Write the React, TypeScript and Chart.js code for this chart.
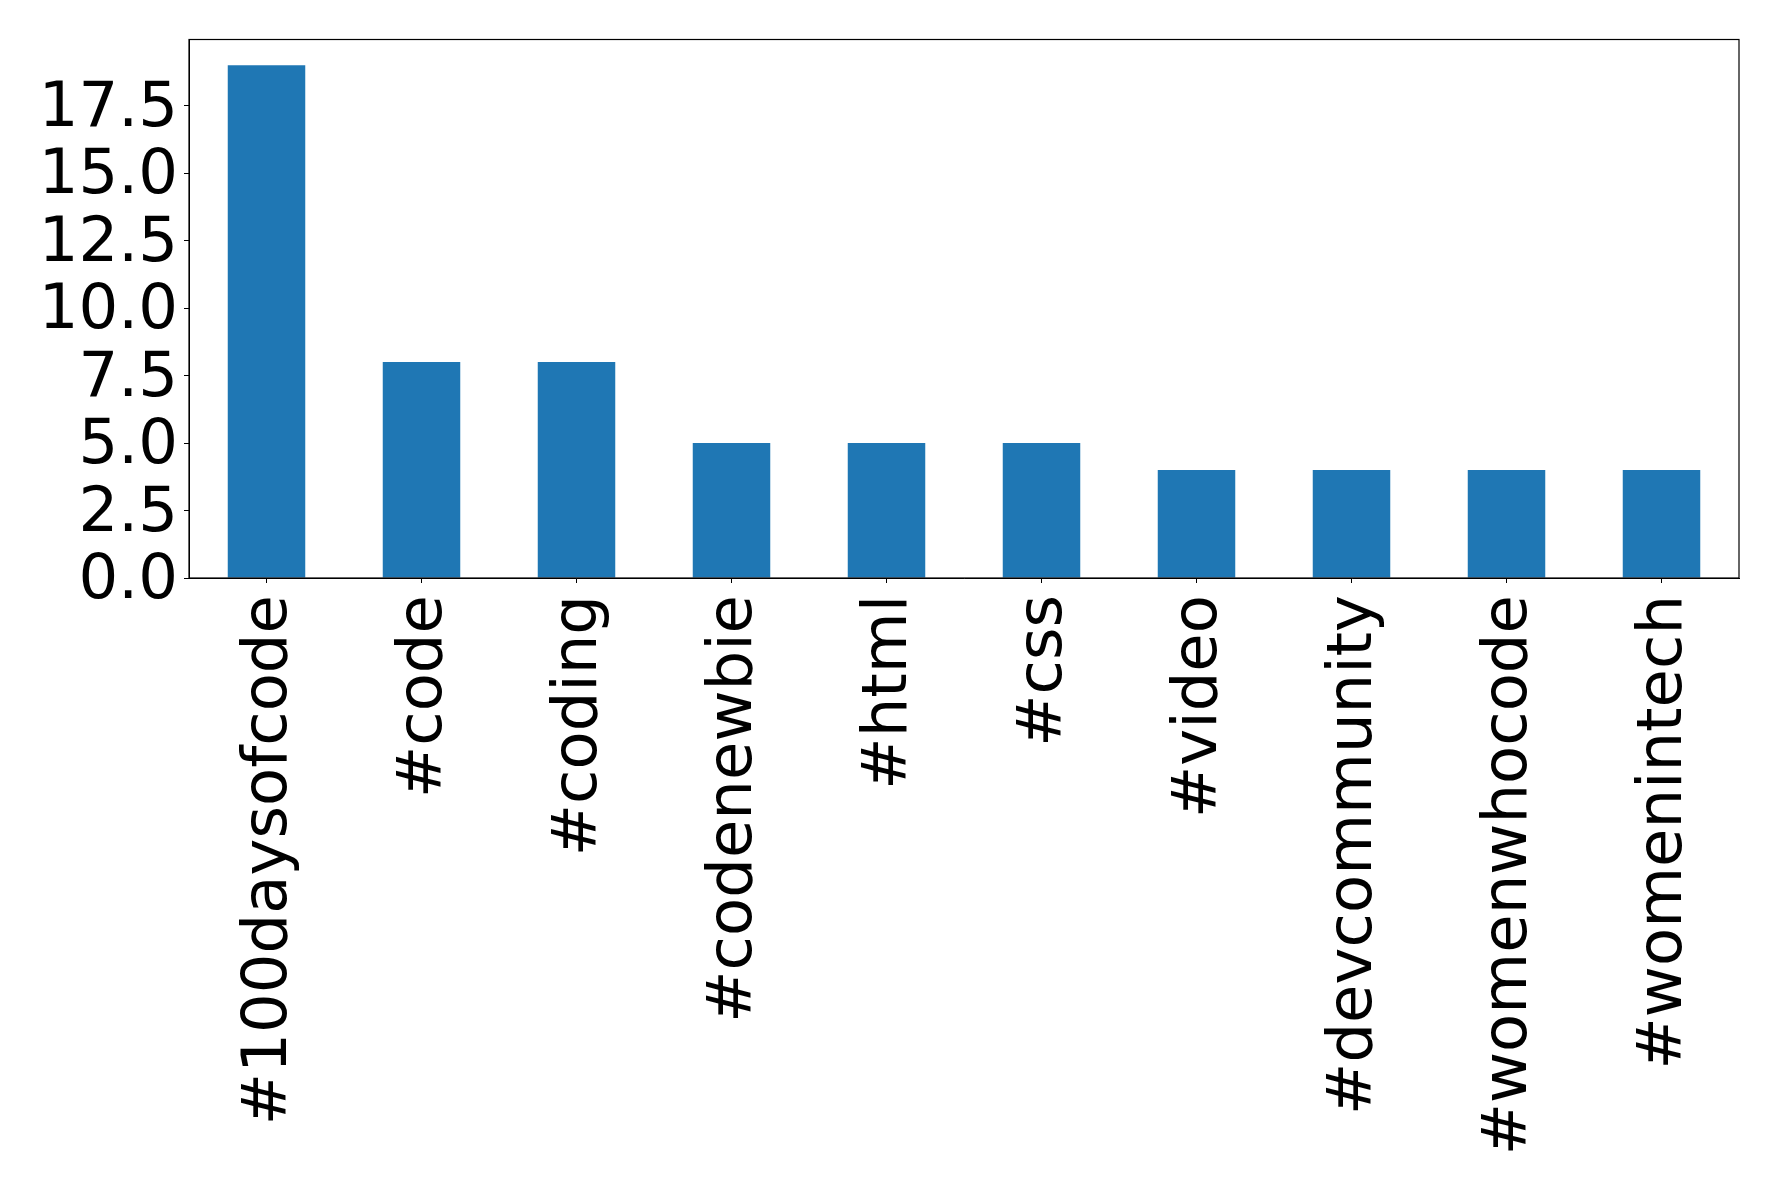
import React, { useEffect, useRef } from "react";
import { Chart, registerables } from "chart.js";

Chart.register(...registerables);

const categories = [
  "#100daysofcode",
  "#code",
  "#coding",
  "#codenewbie",
  "#html",
  "#css",
  "#video",
  "#devcommunity",
  "#womenwhocode",
  "#womenintech",
];
const counts = [19, 8, 8, 5, 5, 5, 4, 4, 4, 4];
const yMax = 19.95;
const yStep = 2.5;

const frame = {
  id: "frame",
  afterDraw(chart: any) {
    const { ctx, chartArea } = chart;
    ctx.save();
    ctx.strokeStyle = "#000";
    ctx.lineWidth = 1.2;
    ctx.strokeRect(chartArea.left, chartArea.top, chartArea.right - chartArea.left, chartArea.bottom - chartArea.top);
    ctx.restore();
  },
};

export default function App() {
  const ref = useRef<HTMLCanvasElement>(null);
  useEffect(() => {
    document.body.style.margin = "0";
    const font = { family: "'DejaVu Sans', sans-serif", size: 62.5, lineHeight: 0.8 };
    const chart = new Chart(ref.current!, {
      type: "bar",
      data: {
        labels: categories,
        datasets: [
          {
            data: counts,
            backgroundColor: "#1f77b4",
            barPercentage: 0.5,
            categoryPercentage: 1,
          },
        ],
      },
      options: {
        animation: false,
        responsive: false,
        maintainAspectRatio: false,
        layout: { padding: { top: 39.5, right: 39, left: 0, bottom: 0 } },
        plugins: { legend: { display: false }, tooltip: { enabled: false } },
        scales: {
          x: {
            afterFit(scale: any) {
              scale.height = 1188 - 578;
            },
            grid: { offset: false, drawOnChartArea: false, drawTicks: true, tickLength: 5, color: "#000" },
            border: { display: true, color: "#000" },
            ticks: {
              color: "#000",
              font,
              maxRotation: 90,
              minRotation: 90,
              autoSkip: false,
              padding: 12,
              labelOffset: 3,
            },
          },
          y: {
            min: 0,
            max: yMax,
            afterFit(scale: any) {
              scale.width = 189;
            },
            grid: { drawOnChartArea: false, drawTicks: true, tickLength: 5, color: "#000" },
            border: { display: true, color: "#000" },
            ticks: {
              stepSize: yStep,
              includeBounds: false,
              autoSkip: false,
              color: "#000",
              font,
              padding: 6,
              labelOffset: 4,
              callback: (v: any) => Number(v).toFixed(1),
            },
          },
        },
      },
      plugins: [frame],
    });
    return () => chart.destroy();
  }, []);
  return (
    <div style={{ width: 1778, height: 1188 }}>
      <canvas ref={ref} width={1778} height={1188} style={{ display: "block" }} />
    </div>
  );
}
